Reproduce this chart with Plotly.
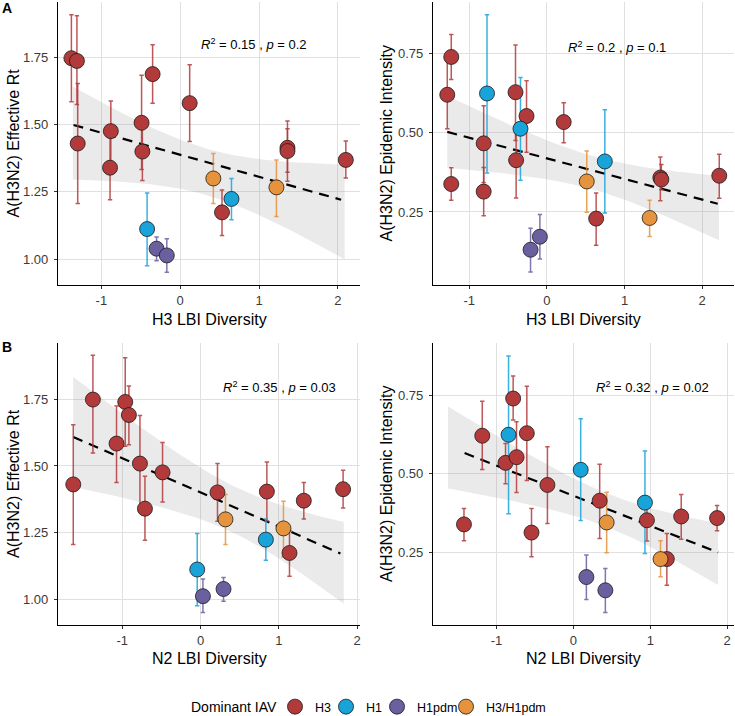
import numpy as np
import plotly.graph_objects as go

W, H = 735, 716
FONT = "Liberation Sans, Arial, Helvetica, sans-serif"

SUBTYPES = ["H3", "H1", "H1pdm", "H3/H1pdm"]
COLORS = {"H3": "#B23A3B", "H1": "#18A3D9", "H1pdm": "#6A609F", "H3/H1pdm": "#E5933C"}
BAR_COLORS = {"H3": "rgba(178,58,59,0.85)", "H1": "rgba(24,163,217,0.85)",
              "H1pdm": "rgba(106,96,159,0.85)", "H3/H1pdm": "rgba(229,147,60,0.85)"}

# ---------------- Panel A (left): H3 LBI diversity vs effective Rt ----------------
a1_type = ["H3", "H3", "H3", "H3", "H3", "H3", "H3", "H3", "H3", "H3/H1pdm",
           "H1", "H3", "H3/H1pdm", "H3", "H3", "H3", "H1", "H1pdm", "H1pdm"]
a1_x = [-1.38, -1.31, -1.30, -0.88, -0.89, -0.49, -0.48, -0.35, 0.12, 0.42,
        0.65, 0.53, 1.22, 1.36, 1.36, 2.10, -0.42, -0.30, -0.17]
a1_y = [1.747, 1.737, 1.430, 1.476, 1.340, 1.507, 1.400, 1.688, 1.580, 1.300,
        1.224, 1.174, 1.267, 1.414, 1.402, 1.369, 1.112, 1.039, 1.014]
a1_lo = [1.585, 1.575, 1.207, 1.360, 1.221, 1.333, 1.292, 1.580, 1.437, 1.207,
         1.147, 1.088, 1.159, 1.323, 1.290, 1.302, 0.976, 0.994, 0.951]
a1_hi = [1.909, 1.905, 1.653, 1.588, 1.460, 1.684, 1.500, 1.797, 1.723, 1.393,
         1.300, 1.257, 1.369, 1.514, 1.485, 1.439, 1.246, 1.082, 1.076]
# fitted trend (dashed line) and its confidence band, read at the ends
a1_line_x = [-1.353, 2.04]
a1_line_y = [1.499, 1.221]
a1_band_x = [-1.362, 2.085]
a1_band_lo = [1.296, 1.000]
a1_band_hi = [1.641, 1.352]

# ---------------- Panel A (right): H3 LBI diversity vs epidemic intensity ----------------
a2_type = ["H3", "H3", "H3", "H1", "H3", "H3", "H3", "H3", "H1", "H3",
           "H3", "H3/H1pdm", "H3", "H1", "H3/H1pdm", "H3", "H3", "H3", "H1pdm", "H1pdm"]
a2_x = [-1.233, -1.284, -1.233, -0.772, -0.815, -0.815, -0.405, -0.397, -0.341, -0.263,
        0.216, 0.513, 0.634, 0.746, 1.323, 1.461, 1.474, 2.220, -0.211, -0.091]
a2_y = [0.738, 0.619, 0.338, 0.623, 0.466, 0.314, 0.627, 0.413, 0.512, 0.552,
        0.533, 0.346, 0.229, 0.409, 0.231, 0.358, 0.352, 0.364, 0.131, 0.172]
a2_lo = [0.667, 0.512, 0.287, 0.373, 0.343, 0.238, 0.475, 0.294, 0.350, 0.438,
         0.468, 0.249, 0.145, 0.247, 0.173, 0.285, 0.320, 0.293, 0.061, 0.102]
a2_hi = [0.809, 0.730, 0.389, 0.871, 0.584, 0.390, 0.776, 0.525, 0.673, 0.663,
         0.594, 0.442, 0.310, 0.572, 0.287, 0.423, 0.399, 0.432, 0.199, 0.242]
a2_line_x = [-1.284, 2.20]
a2_line_y = [0.502, 0.276]
a2_band_x = [-1.284, 2.216]
a2_band_lo = [0.389, 0.161]
a2_band_hi = [0.615, 0.363]

# ---------------- Panel B (left): N2 LBI diversity vs effective Rt ----------------
b1_type = ["H3", "H3", "H3", "H3", "H3", "H3", "H3", "H3", "H3", "H3",
           "H3", "H3", "H3/H1pdm", "H3/H1pdm", "H3", "H1", "H1", "H1pdm", "H1pdm"]
b1_x = [-1.626, -1.375, -0.962, -0.915, -1.073, -0.774, -0.710, -0.485, 0.217, 0.848,
        1.320, 1.822, 0.319, 1.060, 1.137, 0.835, -0.042, 0.031, 0.294]
b1_y = [1.431, 1.749, 1.740, 1.691, 1.584, 1.509, 1.340, 1.476, 1.401, 1.404,
        1.370, 1.413, 1.300, 1.266, 1.174, 1.224, 1.112, 1.012, 1.039]
b1_lo = [1.206, 1.549, 1.574, 1.580, 1.438, 1.331, 1.222, 1.365, 1.293, 1.294,
         1.301, 1.343, 1.206, 1.159, 1.087, 1.147, 0.976, 0.951, 0.993]
b1_hi = [1.655, 1.915, 1.906, 1.800, 1.725, 1.689, 1.462, 1.588, 1.509, 1.515,
         1.438, 1.484, 1.393, 1.368, 1.257, 1.301, 1.247, 1.076, 1.082]
b1_line_x = [-1.626, 1.788]
b1_line_y = [1.609, 1.172]
b1_band_x = [-1.626, 1.831]
b1_band_lo = [1.421, 0.984]
b1_band_hi = [1.834, 1.290]

# ---------------- Panel B (right): N2 LBI diversity vs epidemic intensity ----------------
b2_type = ["H3", "H3", "H1", "H3", "H3", "H3", "H3", "H3", "H3", "H1",
           "H3", "H3/H1pdm", "H1", "H3", "H3", "H3", "H3/H1pdm", "H3", "H1pdm", "H1pdm"]
b2_x = [-1.424, -1.186, -0.844, -0.784, -0.883, -0.740, -0.606, -0.545, -0.338, 0.095,
        0.342, 0.433, 0.931, 0.957, 1.403, 1.870, 1.134, 1.216, 0.169, 0.416]
b2_y = [0.340, 0.621, 0.624, 0.739, 0.535, 0.553, 0.629, 0.314, 0.465, 0.513,
        0.415, 0.346, 0.409, 0.353, 0.365, 0.360, 0.230, 0.230, 0.173, 0.131]
b2_lo = [0.288, 0.514, 0.374, 0.671, 0.469, 0.441, 0.479, 0.237, 0.343, 0.352,
         0.295, 0.250, 0.248, 0.287, 0.293, 0.320, 0.174, 0.147, 0.102, 0.061]
b2_hi = [0.390, 0.730, 0.874, 0.810, 0.596, 0.665, 0.778, 0.390, 0.586, 0.675,
         0.531, 0.442, 0.573, 0.423, 0.435, 0.400, 0.288, 0.311, 0.243, 0.200]
b2_line_x = [-1.416, 1.883]
b2_line_y = [0.566, 0.251]
b2_band_x = [-1.632, 1.883]
b2_band_lo = [0.454, 0.148]
b2_band_hi = [0.714, 0.343]

# Stats labels
a1_stat = "<i>R</i><sup>2</sup> = 0.15 , <i>p</i> = 0.2"
a2_stat = "<i>R</i><sup>2</sup> = 0.2 , <i>p</i> = 0.1"
b1_stat = "<i>R</i><sup>2</sup> = 0.35 , <i>p</i> = 0.03"
b2_stat = "<i>R</i><sup>2</sup> = 0.32 , <i>p</i> = 0.02"

x_title_a = "H3 LBI Diversity"
x_title_b = "N2 LBI Diversity"
y_title_rt = "A(H3N2) Effective Rt"
y_title_ei = "A(H3N2) Epidemic Intensity"
legend_title = "Dominant IAV"

x_ticks = [-1, 0, 1, 2]
x_tick_text = ["-1", "0", "1", "2"]
rt_ticks = [1.00, 1.25, 1.50, 1.75]
rt_tick_text = ["1.00", "1.25", "1.50", "1.75"]
ei_ticks = [0.25, 0.50, 0.75]
ei_tick_text = ["0.25", "0.50", "0.75"]


def band_curve(xdata, bx, blo, bhi, n_grid=80):
    """Confidence band of a linear fit: linear centre between the read band ends,
    half-width shaped like sqrt(1/n + (x-x0)^2/Sxx) of the panel's x data."""
    x = np.asarray(xdata, float)
    n = len(x)
    sxx = np.sum((x - x.mean()) ** 2)
    xl, xr = bx
    hwl, hwr = (bhi[0] - blo[0]) / 2, (bhi[1] - blo[1]) / 2
    cl, cr = (bhi[0] + blo[0]) / 2, (bhi[1] + blo[1]) / 2

    def shape(x0, xx):
        return np.sqrt(1.0 / n + (xx - x0) ** 2 / sxx)

    cand = np.linspace(xl, xr, 4001)
    x0 = cand[np.argmin(np.abs(shape(cand, xl) / shape(cand, xr) - hwl / hwr))]
    xg = np.linspace(xl, xr, n_grid)
    k = hwl / shape(x0, xl)
    hw = k * shape(x0, xg)
    corr = np.interp(xg, [xl, xr], [0.0, hwr - k * shape(x0, xr)])
    hw = hw + corr
    c = np.interp(xg, [xl, xr], [cl, cr])
    return xg, c - hw, c + hw


fig = go.Figure()

panels = [
    dict(ax="", t=a1_type, x=a1_x, y=a1_y, lo=a1_lo, hi=a1_hi, legend=True,
         lx=a1_line_x, ly=a1_line_y, bx=a1_band_x, blo=a1_band_lo, bhi=a1_band_hi),
    dict(ax="2", t=a2_type, x=a2_x, y=a2_y, lo=a2_lo, hi=a2_hi, legend=False,
         lx=a2_line_x, ly=a2_line_y, bx=a2_band_x, blo=a2_band_lo, bhi=a2_band_hi),
    dict(ax="3", t=b1_type, x=b1_x, y=b1_y, lo=b1_lo, hi=b1_hi, legend=False,
         lx=b1_line_x, ly=b1_line_y, bx=b1_band_x, blo=b1_band_lo, bhi=b1_band_hi),
    dict(ax="4", t=b2_type, x=b2_x, y=b2_y, lo=b2_lo, hi=b2_hi, legend=False,
         lx=b2_line_x, ly=b2_line_y, bx=b2_band_x, blo=b2_band_lo, bhi=b2_band_hi),
]

LEGEND_IDS = {"H3": "legend", "H1": "legend2", "H1pdm": "legend3", "H3/H1pdm": "legend4"}

for p in panels:
    xa, ya = "x" + p["ax"], "y" + p["ax"]
    xg, lo, hi = band_curve(p["x"], p["bx"], p["blo"], p["bhi"])
    fig.add_trace(go.Scatter(x=np.concatenate([xg, xg[::-1]]), y=np.concatenate([hi, lo[::-1]]),
                             fill="toself", fillcolor="rgba(150,150,150,0.2)", line=dict(width=0),
                             mode="lines", hoverinfo="skip", showlegend=False, xaxis=xa, yaxis=ya))
    fig.add_trace(go.Scatter(x=p["lx"], y=p["ly"], mode="lines",
                             line=dict(color="black", width=2.2, dash="10px,7px"),
                             hoverinfo="skip", showlegend=False, xaxis=xa, yaxis=ya))
    types = np.array(p["t"])
    xs, ys = np.array(p["x"]), np.array(p["y"])
    los, his = np.array(p["lo"]), np.array(p["hi"])
    for st in SUBTYPES:
        m = types == st
        if not m.any():
            continue
        fig.add_trace(go.Scatter(
            x=xs[m], y=ys[m], mode="markers", marker=dict(size=1, opacity=0),
            error_y=dict(type="data", symmetric=False, array=his[m] - ys[m], arrayminus=ys[m] - los[m],
                         color=BAR_COLORS[st], thickness=1.5, width=2.2),
            hoverinfo="skip", showlegend=False, xaxis=xa, yaxis=ya))
    for st in SUBTYPES:
        m = types == st
        if not m.any():
            continue
        fig.add_trace(go.Scatter(
            x=xs[m], y=ys[m], mode="markers", name=st, legendgroup=st,
            showlegend=p["legend"], legend=LEGEND_IDS[st],
            marker=dict(size=15, color=COLORS[st], line=dict(color="#1a1a1a", width=0.8)),
            xaxis=xa, yaxis=ya))


def px_dom_x(a, b):
    return [a / W, b / W]


def px_dom_y(top, bottom):
    return [1 - bottom / H, 1 - top / H]


axis_common = dict(showline=True, linecolor="black", linewidth=1.1, mirror=False, automargin=False,
                   showgrid=True, gridcolor="#E0E0E0", gridwidth=1.1, zeroline=False,
                   ticks="outside", ticklen=3, tickcolor="#333333", tickwidth=1,
                   tickfont=dict(family=FONT, size=13, color="#3A3A3A"), tickmode="array")
x_common = dict(axis_common, ticklabelstandoff=0)
y_common = dict(axis_common, ticklabelstandoff=3)

fig.update_layout(
    xaxis=dict(domain=px_dom_x(58, 360), range=[-1.55, 2.28], anchor="y",
               tickvals=x_ticks, ticktext=x_tick_text, **x_common),
    yaxis=dict(domain=px_dom_y(2, 285), range=[0.904, 1.956], anchor="x",
               tickvals=rt_ticks, ticktext=rt_tick_text, **y_common),
    xaxis2=dict(domain=px_dom_x(433, 734), range=[-1.468, 2.41], anchor="y2",
                tickvals=x_ticks, ticktext=x_tick_text, **x_common),
    yaxis2=dict(domain=px_dom_y(2, 285), range=[0.020, 0.911], anchor="x2",
                tickvals=ei_ticks, ticktext=ei_tick_text, **y_common),
    xaxis3=dict(domain=px_dom_x(58, 360), range=[-1.821, 2.038], anchor="y3",
                tickvals=x_ticks, ticktext=x_tick_text, **x_common),
    yaxis3=dict(domain=px_dom_y(343, 625), range=[0.904, 1.961], anchor="x3",
                tickvals=rt_ticks, ticktext=rt_tick_text, **y_common),
    xaxis4=dict(domain=px_dom_x(433, 734), range=[-1.827, 2.09], anchor="y4",
                tickvals=x_ticks, ticktext=x_tick_text, **x_common),
    yaxis4=dict(domain=px_dom_y(343, 625), range=[0.021, 0.915], anchor="x4",
                tickvals=ei_ticks, ticktext=ei_tick_text, **y_common),
)

ann = []


def add_text(text, xpx, ypx, size, angle=0, bold=False, color="black", xanchor="center"):
    ann.append(dict(text=("<b>%s</b>" % text) if bold else text, x=xpx / W, y=1 - ypx / H,
                    xref="paper", yref="paper", showarrow=False, textangle=angle,
                    xanchor=xanchor, yanchor="middle",
                    font=dict(family=FONT, size=size, color=color)))


add_text(a1_stat, 254, 44, 13)
add_text(a2_stat, 617, 47, 13)
add_text(b1_stat, 279, 387, 13)
add_text(b2_stat, 652, 387, 13)
add_text(x_title_a, 209, 319, 16)
add_text(x_title_a, 583.5, 319, 16)
add_text(x_title_b, 209, 658, 16)
add_text(x_title_b, 583.5, 658, 16)
add_text(y_title_rt, 13, 143.5, 16, angle=-90)
add_text(y_title_ei, 386, 143.5, 16, angle=-90)
add_text(y_title_rt, 13, 484, 16, angle=-90)
add_text(y_title_ei, 386, 484, 16, angle=-90)
add_text("A", 7, 8, 14, bold=True)
add_text("B", 7, 347, 14, bold=True)
add_text(legend_title, 189, 707, 14, xanchor="left")


def legend_box(marker_center_px):
    return dict(orientation="h", x=(marker_center_px - 20) / W, xanchor="left",
                y=1 - 707 / H, yanchor="middle", xref="container", yref="container",
                font=dict(family=FONT, size=12.5), itemwidth=30, bgcolor="rgba(0,0,0,0)")


fig.update_layout(
    annotations=ann,
    width=W, height=H,
    margin=dict(l=0, r=0, t=0, b=0, autoexpand=False),
    paper_bgcolor="white", plot_bgcolor="white",
    font=dict(family=FONT, color="black"),
    showlegend=True,
    legend=legend_box(295),
    legend2=legend_box(346),
    legend3=legend_box(397),
    legend4=legend_box(466),
)

fig.write_html("out.html", config={"displayModeBar": False},
               post_script="document.body.style.margin='0px';document.body.style.padding='0px';")
